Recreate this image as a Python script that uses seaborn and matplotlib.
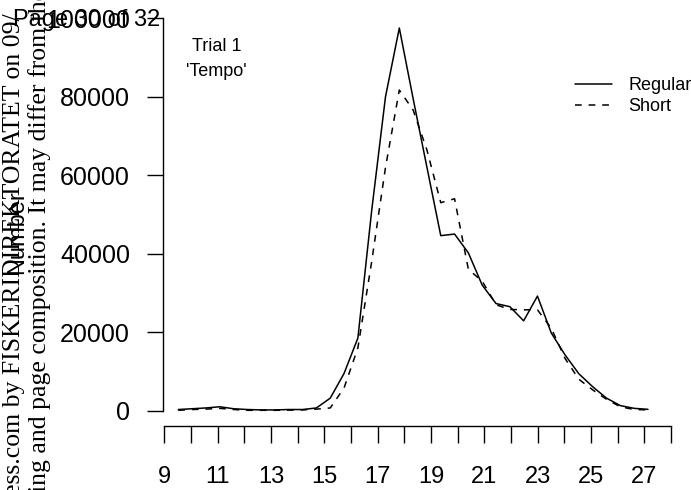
import numpy as np
import pandas as pd
import seaborn as sns
import matplotlib
matplotlib.use("Agg")
import matplotlib.pyplot as plt

# Length classes (cm) and catch numbers
lengths = [9.5, 10.0, 10.5, 11.0, 11.5, 12.0, 12.5, 13.0, 13.5, 14.0,
           14.5, 15.0, 15.5, 16.0, 16.5, 17.0, 17.5, 18.0, 18.5, 19.0,
           19.5, 20.0, 20.5, 21.0, 21.5, 22.0, 22.5, 23.0, 23.5, 24.0,
           24.5, 25.0, 25.5, 26.0, 26.5]
regular = [300, 500, 700, 1000, 500, 300, 200, 200, 300, 300,
           700, 3200, 9500, 18500, 51000, 80000, 97500, 79500, 62000, 44600,
           45000, 40200, 32000, 27300, 26500, 22900, 29200, 19800, 14200, 9400,
           6100, 3200, 1300, 600, 350]
short = [100, 300, 400, 600, 300, 100, 100, 100, 150, 200,
         400, 700, 5800, 16000, 38000, 62000, 81700, 76600, 66400, 53000,
         54000, 36000, 33000, 27000, 25800, 25700, 25700, 21000, 13300, 8000,
         5300, 2900, 1000, 300, 200]
tow_types = ['Regular', 'Short']
x_ticks = list(range(9, 29))
y_ticks = [0, 20000, 40000, 60000, 80000, 100000]

df = pd.DataFrame({
    'Length': lengths * 2,
    'Number': regular + short,
    'Tow': ['Regular'] * len(lengths) + ['Short'] * len(lengths),
})

sns.set_style("ticks")
plt.rcParams['font.family'] = ['Liberation Sans', 'DejaVu Sans']
plt.rcParams['text.color'] = 'black'
plt.rcParams['xtick.color'] = 'black'
plt.rcParams['ytick.color'] = 'black'
plt.rcParams['axes.edgecolor'] = 'black'

W, H = 691, 490
fig = plt.figure(figsize=(W / 100, H / 100), dpi=100)
# axes box in pixels: left 162.7, right 671, top 18.2, bottom 426
ax = fig.add_axes([162.7 / W, 1 - 426 / H, (671 - 162.7) / W, (426 - 18.2) / H])

sns.lineplot(ax=ax, data=df, x='Length', y='Number', hue='Tow', style='Tow',
             palette={'Regular': 'black', 'Short': 'black'},
             dashes={'Regular': '', 'Short': (4.4, 4.5)},
             linewidth=1.1, legend=True)

ax.set_xlim(8.9354, 27.332)
ax.set_ylim(-3898, 100000)

# the axis under the data is drawn on its own scale (as in the original figure)
tick_pos = [8.993 + 0.9653 * (t - 9) for t in x_ticks]
ax.set_xticks(tick_pos)
ax.set_xticklabels([str(t) if t % 2 == 1 else '' for t in x_ticks])
ax.set_yticks(y_ticks)
ax.set_yticklabels([str(v) for v in y_ticks])
ax.tick_params(axis='x', bottom=True, length=12, width=1, pad=16.5, labelsize=17,
               direction='out', colors='black')
ax.tick_params(axis='y', left=True, length=11.5, width=1, pad=12, labelsize=18,
               direction='out', colors='black')
ax.spines['top'].set_visible(False)
ax.spines['right'].set_visible(False)
ax.spines['left'].set_bounds(0, 100000)
ax.spines['bottom'].set_bounds(tick_pos[0], tick_pos[-1])
for s in ['left', 'bottom']:
    ax.spines[s].set_linewidth(1)
    ax.spines[s].set_color('black')
ax.set_xlabel('')
ax.set_ylabel('')

handles, labels = ax.get_legend_handles_labels()
ax.legend(handles, labels, loc='upper left', bbox_to_anchor=(575 / W, 1 - 77 / H),
          bbox_transform=fig.transFigure, frameon=False, fontsize=13,
          borderpad=0, borderaxespad=0, handlelength=2.03, handletextpad=0.92,
          labelspacing=0.22)

ax.text(216.7 / W, 1 - 46.7 / H, 'Trial 1', transform=fig.transFigure,
        ha='center', va='center', fontsize=13)
ax.text(216.7 / W, 1 - 71 / H, "'Tempo'", transform=fig.transFigure,
        ha='center', va='center', fontsize=13)

# y label, partly hidden under the page stamp
fig.text(17 / W, 1 - 232 / H, 'Number', rotation=90, ha='center', va='center',
         fontsize=17)

# page stamps of the source document
fig.text(13 / W, 1 - 20 / H, 'Page 30 of 32', ha='left', va='center', fontsize=17)
fig.text(14 / W, -0.01, 'ess.com by FISKERIDIREKTORATET on 09/',
         rotation=90, ha='center', va='bottom', fontsize=18.5,
         family='Liberation Serif')
fig.text(40 / W, -0.005, 'ing and page composition. It may differ from the',
         rotation=90, ha='center', va='bottom', fontsize=18.5,
         family='Liberation Serif')

plt.savefig('out.png', dpi=100)
